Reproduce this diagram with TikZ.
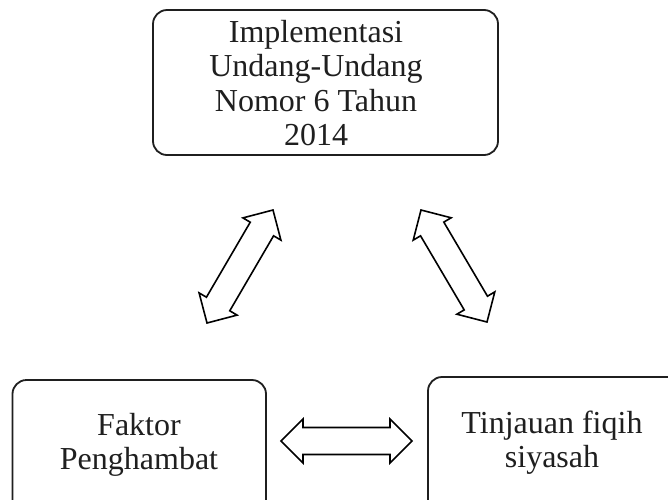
\documentclass[tikz,border=0pt]{standalone}
\usepackage{fontspec}
\setmainfont{Liberation Serif}
\usetikzlibrary{calc}
\tikzset{
  boxstyle/.style={draw=black!88, line width=1.8pt, rounded corners=14pt, inner sep=0pt},
  txt/.style={align=center, font=\fontsize{32}{34.3}\selectfont, inner sep=0pt, text=black!88},
  arrowline/.style={draw=black, line width=1.6pt, fill=white, line join=miter},
}
\newcommand{\dblarr}[2]{%
  \path ($(#1)!22pt!(#2)$) coordinate (h1) ($(#2)!22pt!(#1)$) coordinate (h2);
  \draw[arrowline] (#1) -- ($(h1)!22pt!90:(#2)$) -- ($(h1)!13.5pt!90:(#2)$)
    -- ($(h2)!13.5pt!-90:(#1)$) -- ($(h2)!22pt!-90:(#1)$) -- (#2)
    -- ($(h2)!22pt!90:(#1)$) -- ($(h2)!13.5pt!90:(#1)$)
    -- ($(h1)!13.5pt!-90:(#2)$) -- ($(h1)!22pt!-90:(#2)$) -- cycle;}
\begin{document}
\begin{tikzpicture}[x=1pt,y=-1pt]
\useasboundingbox (0,0) rectangle (668,499);
\clip (0,0) rectangle (668,499);
\fill[white] (0,0) rectangle (668,499);
% boxes
\node[boxstyle, minimum width=345pt, minimum height=145pt] (top) at (325.5,82.5) {};
\node[boxstyle, minimum width=253.5pt, minimum height=180pt] (left) at (139.25,470) {};
\node[boxstyle, minimum width=282pt, minimum height=183pt] (right) at (569,468.5) {};
% texts
\node[txt] (toptext) at (316,83) {Implementasi\\Undang-Undang\\Nomor 6 Tahun\\2014};
\node[txt] (lefttext) at (139,445) {Faktor\\Penghambat};
\node[txt] (righttext) at (552,443) {Tinjauan fiqih\\siyasah};
% arrow end points
\coordinate (la1) at (207,323);
\coordinate (la2) at (273,210);
\coordinate (ra1) at (421,210);
\coordinate (ra2) at (487,322);
\coordinate (ha1) at (281,441);
\coordinate (ha2) at (412,441);
\dblarr{la1}{la2}
\dblarr{ra1}{ra2}
\dblarr{ha1}{ha2}
\end{tikzpicture}
\end{document}
